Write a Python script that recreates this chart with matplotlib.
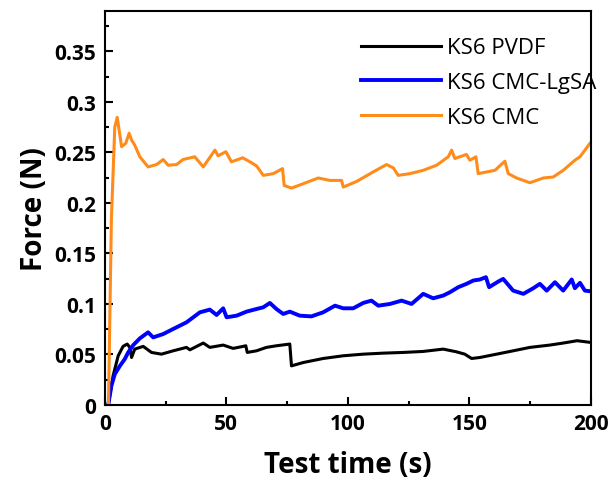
import matplotlib
matplotlib.use('Agg')
import matplotlib.pyplot as plt
from matplotlib.ticker import MultipleLocator

plt.rcParams['font.family'] = ['Open Sans', 'DejaVu Sans']

# KS6 PVDF (black)
t_pvdf = [0, 1.4, 3.4, 5.5, 7.5, 9.2, 10.3, 11.0, 12.3, 15.8, 19.2, 23.3, 28.1, 33.6, 35.0,
          40.5, 43.2, 48.7, 52.8, 56.9, 58.0, 58.6, 62.4, 66.5, 70.6, 76.1, 76.8, 81.6,
          89.8, 98.1, 106.3, 114.5, 122.8, 131.0, 139.2, 144.7, 148.1, 150.9, 154.3,
          161.2, 168.0, 174.9, 183.1, 188.6, 194.3, 199.6]
f_pvdf = [0, 0, 0.0288, 0.0487, 0.058, 0.0603, 0.057, 0.047, 0.0553, 0.058, 0.052, 0.0503,
          0.0536, 0.057, 0.0546, 0.0613, 0.057, 0.0593, 0.056, 0.058, 0.0586, 0.052, 0.0536,
          0.057, 0.0586, 0.0603, 0.0387, 0.042, 0.046, 0.0487, 0.0503, 0.0513, 0.052, 0.053,
          0.0553, 0.0526, 0.0503, 0.046, 0.047, 0.0503, 0.0536, 0.057, 0.0593, 0.0613,
          0.0636, 0.062]

# KS6 CMC-LgSA (blue)
t_lgsa = [0, 1.4, 2.7, 4.1, 6.2, 8.2, 9.6, 11.7, 14.4, 17.8, 19.9, 24.0, 28.1, 33.6, 39.1,
          43.2, 46.0, 48.7, 50.1, 54.2, 58.3, 62.4, 65.2, 67.9, 70.6, 73.4, 76.1, 80.2,
          85.0, 89.8, 94.7, 98.1, 102.2, 106.3, 109.7, 112.5, 117.3, 122.1, 126.2, 131.0,
          135.1, 139.2, 142.0, 145.4, 148.8, 151.6, 154.3, 156.8, 158.1, 161.9, 163.9,
          168.0, 172.2, 176.3, 179.0, 181.8, 185.2, 188.6, 192.1, 193.4, 195.5, 197.5, 199.6]
f_lgsa = [0, 0, 0.019, 0.0305, 0.0387, 0.0454, 0.052, 0.0593, 0.0659, 0.0719, 0.0669,
          0.0702, 0.0752, 0.0818, 0.0917, 0.0944, 0.0891, 0.0957, 0.0868, 0.0884, 0.0924,
          0.095, 0.0967, 0.101, 0.095, 0.0901, 0.0924, 0.0884, 0.0877, 0.0917, 0.0983,
          0.0957, 0.0957, 0.101, 0.1033, 0.0983, 0.1, 0.1033, 0.1, 0.11, 0.1056, 0.1083,
          0.1116, 0.1166, 0.1199, 0.1232, 0.1242, 0.1265, 0.1166, 0.1222, 0.1248, 0.1132,
          0.11, 0.1156, 0.1199, 0.1132, 0.1215, 0.1132, 0.1242, 0.1156, 0.1209, 0.1132,
          0.1126]

# KS6 CMC (orange)
t_cmc = [0, 1.5, 2.7, 4.1, 5.1, 6.9, 8.6, 10.0, 11.0, 12.3, 14.4, 17.8, 21.3, 24.0, 26.1,
         29.5, 32.2, 37.0, 40.5, 45.3, 46.6, 49.8, 52.1, 56.7, 59.7, 62.4, 65.2, 69.3,
         73.1, 73.8, 76.8, 81.6, 87.8, 92.6, 97.4, 98.1, 103.6, 110.4, 115.9, 118.7,
         120.7, 125.5, 131.0, 136.5, 141.3, 142.7, 144.0, 148.8, 150.2, 152.7, 153.6,
         157.1, 160.5, 164.6, 166.0, 169.4, 174.9, 180.4, 184.5, 188.6, 193.4, 195.5, 199.6]
f_cmc = [0, 0, 0.184, 0.275, 0.2847, 0.2557, 0.259, 0.269, 0.2623, 0.2573, 0.2457, 0.2357,
         0.238, 0.243, 0.2373, 0.238, 0.243, 0.2457, 0.2357, 0.2523, 0.2467, 0.2507, 0.2407,
         0.2447, 0.2407, 0.2367, 0.2273, 0.229, 0.234, 0.2173, 0.2147, 0.219, 0.2247,
         0.2223, 0.2223, 0.2157, 0.2213, 0.2307, 0.238, 0.2347, 0.2273, 0.229, 0.2323,
         0.2373, 0.2457, 0.2523, 0.244, 0.248, 0.2423, 0.2457, 0.229, 0.2307, 0.2323,
         0.2413, 0.229, 0.2247, 0.22, 0.2247, 0.2257, 0.2323, 0.2423, 0.2457, 0.259]

yticks = [0, 0.05, 0.1, 0.15, 0.2, 0.25, 0.3, 0.35]
ylabels = ['0', '0.05', '0.1', '0.15', '0.2', '0.25', '0.3', '0.35']

fig = plt.figure(figsize=(6.13, 4.81), dpi=100)
ax = fig.add_axes([0.171, 0.156, 0.793, 0.819])

ax.plot(t_pvdf, f_pvdf, color='black', lw=2.2, label='KS6 PVDF')
ax.plot(t_lgsa, f_lgsa, color='#0000ff', lw=2.8, label='KS6 CMC-LgSA')
ax.plot(t_cmc, f_cmc, color='#ff8c1a', lw=2.2, label='KS6 CMC')

ax.set_xlim(0, 200)
ax.set_ylim(0, 0.39)
ax.xaxis.set_major_locator(MultipleLocator(50))
ax.xaxis.set_minor_locator(MultipleLocator(25))
ax.yaxis.set_minor_locator(MultipleLocator(0.025))
ax.set_yticks(yticks)
ax.set_yticklabels(ylabels)
ax.tick_params(which='both', direction='in', width=1.5)
ax.tick_params(which='major', length=6, labelsize=15, pad=6)
ax.tick_params(which='minor', length=3)
for lab in ax.get_xticklabels() + ax.get_yticklabels():
    lab.set_fontweight('bold')
for sp in ax.spines.values():
    sp.set_linewidth(1.5)

ax.set_xlabel('Test time (s)', fontsize=20, fontweight='bold', labelpad=11)
ax.set_ylabel('Force (N)', fontsize=20, fontweight='bold', labelpad=4)

fig.legend(loc='upper left', frameon=False, fontsize=16, handlelength=3.6,
           handletextpad=0.27, labelspacing=0.62, bbox_to_anchor=(0.557, 0.962))

fig.savefig('out.png', dpi=100)
